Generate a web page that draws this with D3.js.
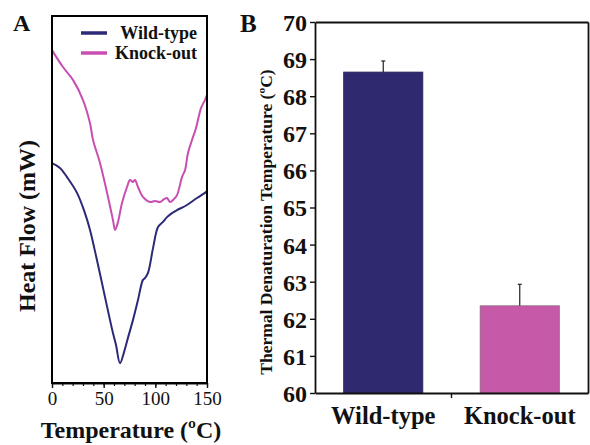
<!DOCTYPE html>
<meta charset="utf-8">
<style>
body{ margin:0; background:#fff; }
#chart{ position:relative; width:590px; height:445px; }
#chart svg{ position:absolute; left:0; top:0; }
</style>
<body>
<div id="chart"></div>
<script src="https://d3js.org/d3.v7.min.js"></script>
<script>
// panel A: DSC traces (arbitrary heat flow units)
var wtTemp = [0,7.7,14.5,24.2,31.9,36.8,43.5,51.3,56.1,59,61.9,65.8,69.7,73.5,78.4,83.2,88,90,92.9,98,102.6,107.4,111.3,116.1,121,130.6,140.3,148,150];
var wtFlow = [59.9,58.6,56.1,51.8,46.3,41.7,33.5,23.4,17.2,13.6,10.4,5.4,8.4,12.3,17.2,22.6,28.1,28.6,30.0,37.1,42.5,43.9,45.2,46.3,47.1,48.5,50.4,51.8,52.3];
var koTemp = [0,10.6,20.3,30,36.8,39.7,46.5,54.2,59,61,63.9,67.7,72.6,75.5,78.4,80.3,83.2,88,94.8,99.7,104.5,108.4,111.3,114.2,118,121,125.8,128.7,131.6,135.5,139.4,144.2,148,150];
var koFlow = [90.7,86.1,82.6,77.1,70.8,66.2,59.9,50.7,44.4,41.7,43.9,49.0,53.4,55.3,54.8,55.3,53.4,50.7,49.3,49.6,49.3,50.1,50.4,49.3,50.1,51.2,56.1,58.0,62.7,66.2,69.5,74.9,77.1,78.5];
var tempTicks = [0,50,100,150];

// panel B: denaturation temperature
var groups = ["Wild-type","Knock-out"];
var tdMean = [68.65,62.35];
var tdErr = [0.3,0.58];
var tdTicks = [60,61,62,63,64,65,66,67,68,69,70];

var navy = "#2f2a6f", pink = "#c659a8";
var lineNavy = "#2c2a78", linePink = "#c84fb1";
var serif = "Liberation Serif";

var svg = d3.select("#chart").append("svg").attr("width",590).attr("height",445);

function boldText(x,y,size,str,anchor){
    return svg.append("text").attr("x",x).attr("y",y)
        .attr("font-family",serif).attr("font-weight","bold").attr("font-size",size)
        .attr("fill","#111").attr("text-anchor",anchor||"start").text(str);
}
function styleDomain(g){
    g.select(".domain").attr("stroke","#111").attr("stroke-width",1.8);
}

// ---- panel A ----
var xA = d3.scaleLinear().domain([0,150]).range([52,207]);
var yA = d3.scaleLinear().domain([0,100]).range([383,16]);

var axA = svg.append("g").attr("transform","translate(0,383)")
    .call(d3.axisBottom(xA).tickValues(tempTicks).tickSize(5).tickPadding(4).tickSizeOuter(0));
styleDomain(axA);
axA.selectAll("line").attr("stroke","#111").attr("stroke-width",1.4);
axA.selectAll("text").attr("font-size",19).attr("font-family",serif).attr("fill","#111");
// minor ticks every 10
svg.append("g").attr("transform","translate(0,383)")
    .call(d3.axisBottom(xA).ticks(15).tickSize(3).tickFormat("").tickSizeOuter(0))
    .call(g=>g.select(".domain").remove())
    .selectAll("line").attr("stroke","#111").attr("stroke-width",1.2);

var line = d3.line().curve(d3.curveCatmullRom).x(d=>xA(d[0])).y(d=>yA(d[1]));
svg.append("path").attr("fill","none").attr("stroke-width",2).attr("stroke",linePink)
    .attr("d",line(d3.zip(koTemp,koFlow)));
svg.append("path").attr("fill","none").attr("stroke-width",2).attr("stroke",lineNavy)
    .attr("d",line(d3.zip(wtTemp,wtFlow)));

// legend
[[groups[0],lineNavy,33],[groups[1],linePink,53]].forEach(function(l){
    svg.append("line").attr("x1",81).attr("x2",107).attr("y1",l[2]).attr("y2",l[2])
        .attr("stroke",l[1]).attr("stroke-width",3.5);
    boldText(197,l[2]+6,18,l[0],"end");
});

boldText(13,31,24,"A");
boldText(131,438,24,"Temperature (ºC)","middle");
boldText(0,0,24,"Heat Flow (mW)","middle").attr("transform","translate(35,226) rotate(-90)");

// ---- panel B ----
var xB = d3.scaleBand().domain(groups).range([315,588]).paddingInner(0.42).paddingOuter(0.21);
var yB = d3.scaleLinear().domain([60,70]).range([393,22]);

svg.selectAll(".bar").data(groups).enter().append("rect").attr("class","bar")
    .attr("x",d=>xB(d)).attr("width",xB.bandwidth())
    .attr("y",(d,i)=>yB(tdMean[i])).attr("height",(d,i)=>yB(60)-yB(tdMean[i]))
    .attr("fill",(d,i)=>i==0?navy:pink)
    .attr("stroke",(d,i)=>i==0?"#25215a":"#8a6a80").attr("stroke-width",0.8);

var eb = svg.selectAll(".err").data(groups).enter().append("g").attr("class","err");
eb.append("line")
    .attr("x1",d=>xB(d)+xB.bandwidth()/2).attr("x2",d=>xB(d)+xB.bandwidth()/2)
    .attr("y1",(d,i)=>yB(tdMean[i])).attr("y2",(d,i)=>yB(tdMean[i]+tdErr[i]))
    .attr("stroke","#222").attr("stroke-width",1.2);
eb.append("line")
    .attr("x1",d=>xB(d)+xB.bandwidth()/2-2).attr("x2",d=>xB(d)+xB.bandwidth()/2+2)
    .attr("y1",(d,i)=>yB(tdMean[i]+tdErr[i])).attr("y2",(d,i)=>yB(tdMean[i]+tdErr[i]))
    .attr("stroke","#222").attr("stroke-width",1.2);

var ayB = svg.append("g").attr("transform","translate(315,0)")
    .call(d3.axisLeft(yB).tickValues(tdTicks).tickSize(5).tickPadding(3).tickSizeOuter(0));
styleDomain(ayB);
ayB.selectAll("line").attr("stroke","#111").attr("stroke-width",1.4);
ayB.selectAll("text").attr("font-weight","bold").attr("font-size",24).attr("font-family",serif)
    .attr("fill","#111").attr("dy","0.35em");

var axB = svg.append("g").attr("transform","translate(0,393)")
    .call(d3.axisBottom(xB).tickSize(0).tickPadding(14).tickSizeOuter(0));
styleDomain(axB);
axB.selectAll("text").attr("font-weight","bold").attr("font-size",24.5).attr("font-family",serif)
    .attr("fill","#111");
// divider tick between the two groups
var mid = (xB(groups[0])+xB(groups[1])+xB.bandwidth())/2;
svg.append("line").attr("x1",mid).attr("x2",mid)
    .attr("y1",393).attr("y2",398).attr("stroke","#111").attr("stroke-width",1.4);

svg.append("g").attr("transform","translate(588,0)")
    .call(d3.axisRight(yB).tickValues([]).tickSizeOuter(0)).call(styleDomain);
svg.append("g").attr("transform","translate(0,22)")
    .call(d3.axisTop(xB).tickValues([]).tickSizeOuter(0)).call(styleDomain);

boldText(240,32,25,"B");
boldText(0,0,17.5,"Thermal Denaturation Temperature (ºC)","middle")
    .attr("transform","translate(272,222) rotate(-90)");

// box around panel A, in its own overlay layer on top of the chart
var overlay = d3.select("#chart").append("svg").attr("width",590).attr("height",445);
overlay.append("rect")
    .attr("x",xA(0)).attr("y",yA(100))
    .attr("width",xA(150)-xA(0)).attr("height",yA(0)-yA(100))
    .attr("fill","none").attr("stroke","#000").attr("stroke-width",2);
</script>
</body>
